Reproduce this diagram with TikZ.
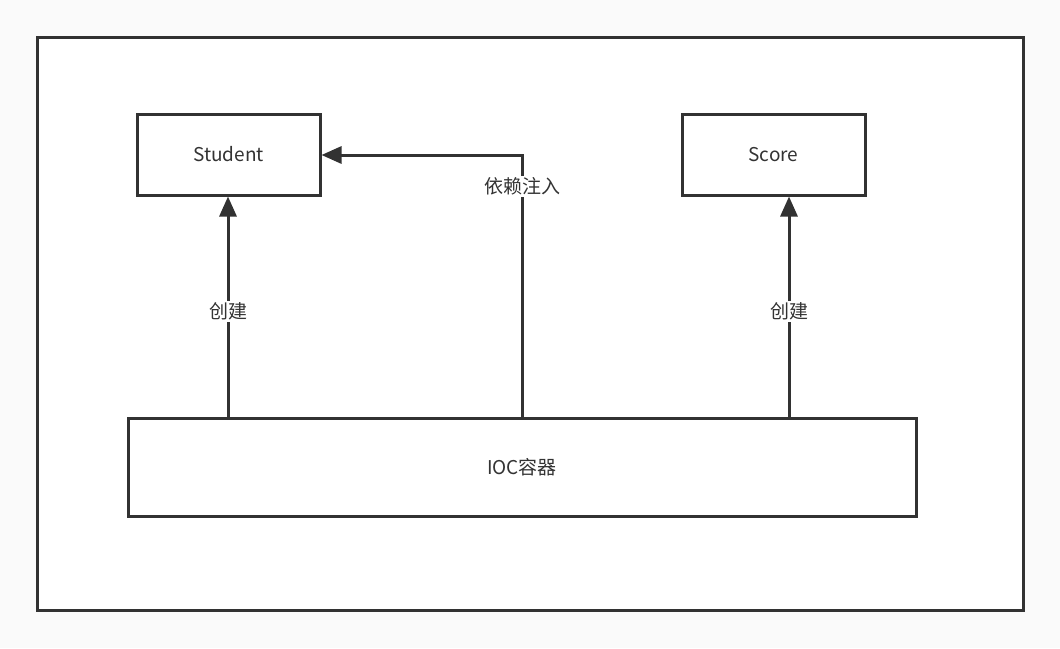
\documentclass[tikz,border=0pt]{standalone}
\usepackage{fontspec}
\setmainfont{Noto Sans CJK SC}
\usetikzlibrary{arrows.meta}
\definecolor{ln}{HTML}{323232}
\definecolor{tx}{HTML}{333333}
\definecolor{bg}{HTML}{FAFAFA}
\tikzset{
  box/.style={draw=ln, line width=3pt, fill=white, inner sep=0pt, text=tx, font=\fontsize{19}{21}\selectfont},
  conn/.style={draw=ln, line width=3pt, -{Triangle[length=20pt,width=17pt]}},
  lbl/.style={fill=white, text=tx, inner sep=2pt, font=\fontsize{19}{21}\selectfont}
}
\begin{document}
\begin{tikzpicture}[x=1pt,y=-1pt]
\useasboundingbox[fill=bg] (0,0) rectangle (1060,648);
\node[box, minimum width=986pt, minimum height=573pt] (frame) at (530,323.5) {};
\node[box, minimum width=183pt, minimum height=81pt] (student) at (228.5,154.5) {\raisebox{-2pt}{Student}};
\node[box, minimum width=183pt, minimum height=81pt] (score) at (773.5,154.5) {\raisebox{-2pt}{Score}};
\node[box, minimum width=788pt, minimum height=98pt] (ioc) at (522,467) {\raisebox{-1pt}{IOC容器}};
\coordinate (a1) at (228,418);
\coordinate (a2) at (789,418);
\coordinate (d0) at (522,418);
\draw[conn] (a1) -- (a1 |- student.south) node[lbl, pos=0.48] {创建};
\draw[conn] (a2) -- (a2 |- score.south) node[lbl, pos=0.48] {创建};
\draw[conn] (d0) -- (522,155) node[lbl, pos=0.88] {依赖注入} -- (student.east |- 0,155);
\end{tikzpicture}
\end{document}
